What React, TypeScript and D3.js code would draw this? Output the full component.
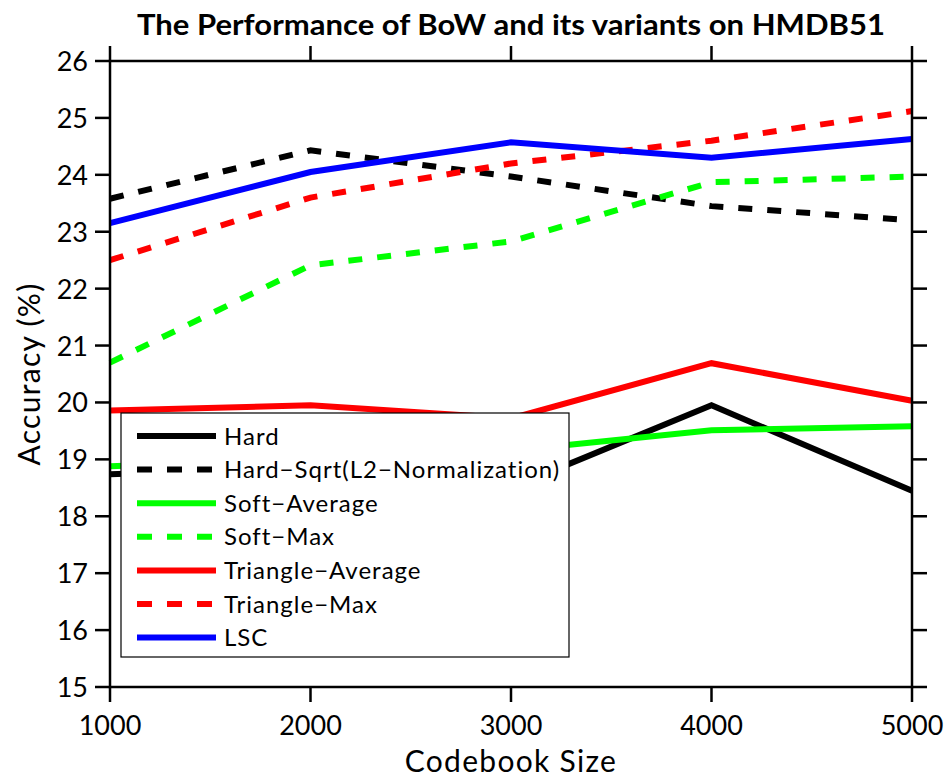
import React from "react";
import * as d3 from "d3";

const codebookSizes = [1000, 2000, 3000, 4000, 5000];
const hard = [18.74, 18.85, 18.5, 19.95, 18.45];
const hardSqrt = [23.58, 24.43, 23.97, 23.45, 23.2];
const softAverage = [18.88, 19.0, 19.15, 19.51, 19.58];
const softMax = [20.7, 22.41, 22.83, 23.87, 23.97];
const triangleAverage = [19.86, 19.95, 19.72, 20.69, 20.03];
const triangleMax = [22.5, 23.6, 24.2, 24.6, 25.12];
const lsc = [23.15, 24.05, 24.57, 24.3, 24.63];

const yTicks = [15, 16, 17, 18, 19, 20, 21, 22, 23, 24, 25, 26];
const xTicks = [1000, 2000, 3000, 4000, 5000];

const seriesNames = [
  "Hard",
  "Hard\u2212Sqrt(L2\u2212Normalization)",
  "Soft\u2212Average",
  "Soft\u2212Max",
  "Triangle\u2212Average",
  "Triangle\u2212Max",
  "LSC",
];
const seriesValues = [hard, hardSqrt, softAverage, softMax, triangleAverage, triangleMax, lsc];
const seriesColors = ["#000000", "#000000", "#00ff00", "#00ff00", "#ff0000", "#ff0000", "#0000ff"];
const seriesDashed = [false, true, false, true, false, true, false];

const W = 951;
const H = 780;
const margin = { left: 110, right: 39, top: 61, bottom: 93 };
const FONT = "Lato, 'Open Sans', sans-serif";

export default function App() {
  const x = d3.scaleLinear().domain([1000, 5000]).range([margin.left, W - margin.right]);
  const y = d3.scaleLinear().domain([15, 26]).range([H - margin.bottom, margin.top]);
  const line = d3
    .line<number>()
    .x((_, i) => x(codebookSizes[i]))
    .y((d) => y(d));

  const x0 = x(1000), x1 = x(5000), y0 = y(15), y1 = y(26);
  const tl = 15;
  const dash = "14,15";

  const legX = 121, legY = 413, legW = 448, legH = 244;
  const rowY = (i: number) => 436 + i * 33.6;

  return (
    <svg width={W} height={H} style={{ position: "absolute", left: 0, top: 0, background: "#fff" }}>
      <rect x={0} y={0} width={W} height={H} fill="#fff" />
      <text
        x={(x0 + x1) / 2}
        y={35}
        textAnchor="middle"
        fontFamily={FONT}
        fontWeight="bold"
        fontSize={28}
        textLength={748}
        lengthAdjust="spacingAndGlyphs"
      >
        The Performance of BoW and its variants on HMDB51
      </text>

      {/* series lines */}
      {seriesValues.map((vals, i) => (
        <path
          key={i}
          d={line(vals) || ""}
          fill="none"
          stroke={seriesColors[i]}
          strokeWidth={6}
          strokeDasharray={seriesDashed[i] ? dash : undefined}
          strokeLinejoin="miter"
        />
      ))}

      {/* frame */}
      <rect x={x0} y={y1} width={x1 - x0} height={y0 - y1} fill="none" stroke="#000" strokeWidth={2.5} />
      {yTicks.map((t) => (
        <g key={"y" + t}>
          <line x1={x0 - tl} x2={x0} y1={y(t)} y2={y(t)} stroke="#000" strokeWidth={2.5} />
          <line x1={x1} x2={x1 + tl} y1={y(t)} y2={y(t)} stroke="#000" strokeWidth={2.5} />
          <text x={x0 - 22} y={y(t) + 10} textAnchor="end" fontFamily={FONT} fontSize={27}>
            {t}
          </text>
        </g>
      ))}
      {xTicks.map((t) => (
        <g key={"x" + t}>
          <line x1={x(t)} x2={x(t)} y1={y0} y2={y0 + tl} stroke="#000" strokeWidth={2.5} />
          <line x1={x(t)} x2={x(t)} y1={y1 - tl} y2={y1} stroke="#000" strokeWidth={2.5} />
          <text x={x(t)} y={735} textAnchor="middle" fontFamily={FONT} fontSize={27}>
            {t}
          </text>
        </g>
      ))}
      <text
        x={(x0 + x1) / 2}
        y={772}
        textAnchor="middle"
        fontFamily={FONT}
        fontSize={30}
        letterSpacing={1.3}
      >
        Codebook Size
      </text>
      <text
        transform={`translate(40, ${(y0 + y1) / 2}) rotate(-90)`}
        textAnchor="middle"
        fontFamily={FONT}
        fontSize={30}
        letterSpacing={1.3}
      >
        Accuracy (%)
      </text>

      {/* legend */}
      <rect x={legX} y={legY} width={legW} height={legH} fill="#fff" stroke="#000" strokeWidth={1.2} />
      {seriesNames.map((name, i) => (
        <g key={"l" + i}>
          <line
            x1={137}
            x2={216}
            y1={rowY(i)}
            y2={rowY(i)}
            stroke={seriesColors[i]}
            strokeWidth={6}
            strokeDasharray={seriesDashed[i] ? "15,15" : undefined}
          />
          <text x={224} y={rowY(i) + 8.5} fontFamily={FONT} fontSize={24} letterSpacing={1}>
            {name}
          </text>
        </g>
      ))}
    </svg>
  );
}
